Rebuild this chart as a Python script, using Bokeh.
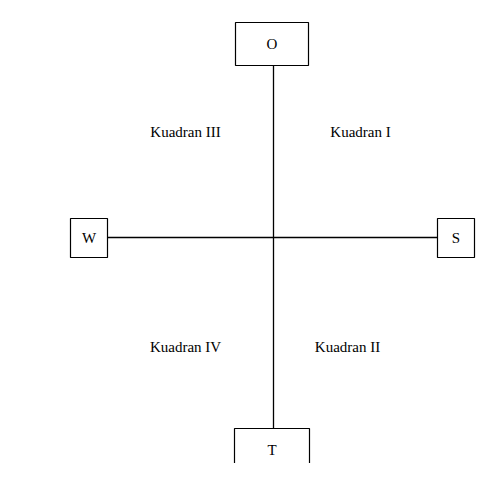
from bokeh.plotting import figure
from bokeh.models import ColumnDataSource
from bokeh.core.properties import value
from bokeh.embed import file_html
from bokeh.resources import INLINE

# diagram layout in picture units (y grows downward)
box_labels = ["O", "T", "W", "S"]
box_x = [271.5, 271.5, 88.5, 455.5]
box_y = [43.5, 449, 237.5, 237.5]
box_w = [73, 75, 37, 37]
box_h = [43, 42, 39, 39]

quad_labels = ["Kuadran III", "Kuadran I", "Kuadran IV", "Kuadran II"]
quad_x = [185, 360, 185, 347]
quad_y = [131, 131, 346, 346]

axis_x0 = [273, 107]
axis_x1 = [273, 437]
axis_y0 = [65, 237]
axis_y1 = [428, 237]

p = figure(width=488, height=463, x_range=(0, 488), y_range=(463, 0),
           output_backend="svg", toolbar_location=None, min_border=0)
p.axis.visible = False
p.grid.visible = False
p.outline_line_color = None

p.segment(x0=axis_x0, y0=axis_y0, x1=axis_x1, y1=axis_y1, line_color="black", line_width=1.3)

boxes = ColumnDataSource(dict(x=box_x, y=box_y, w=box_w, h=box_h, t=box_labels))
p.rect(x="x", y="y", width="w", height="h", source=boxes,
       fill_color="white", line_color="black", line_width=1.2)
p.text(x="x", y="y", text="t", source=boxes, text_align="center", text_baseline="middle",
       text_font=value("Liberation Serif"), text_font_size="15px", text_color="black")

quads = ColumnDataSource(dict(x=quad_x, y=quad_y, t=quad_labels))
p.text(x="x", y="y", text="t", source=quads, text_align="center", text_baseline="middle",
       text_font=value("Liberation Serif"), text_font_size="15px", text_color="black")

open("out.html", "w").write(file_html(p, INLINE))
